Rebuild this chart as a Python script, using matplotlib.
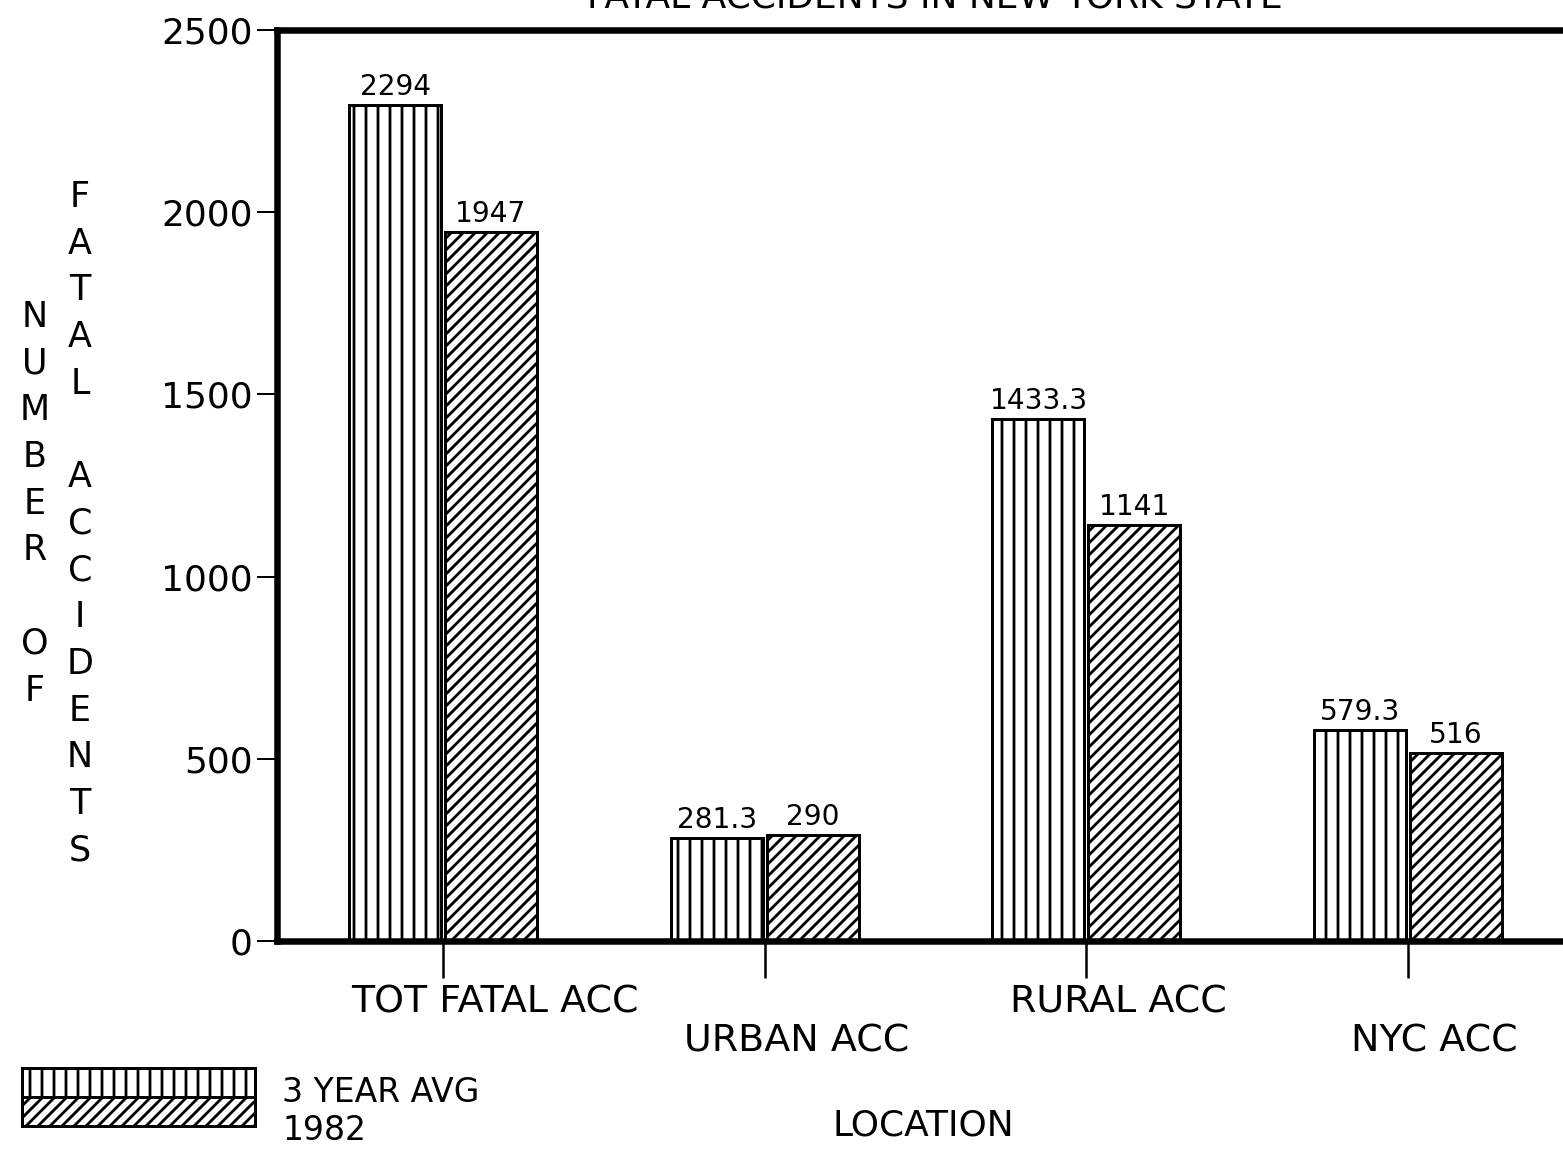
import matplotlib
matplotlib.use("Agg")
import matplotlib.pyplot as plt
import matplotlib.transforms as mtransforms
from matplotlib.patches import Rectangle
import numpy as np

categories = ["TOT FATAL ACC", "URBAN ACC", "RURAL ACC", "NYC ACC"]
avg_3yr = [2294, 281.3, 1433.3, 579.3]
y1982 = [1947, 290, 1141, 516]
series_names = ["3 YEAR AVG", "1982"]
yticks = [0, 500, 1000, 1500, 2000, 2500]

W, H, DPI = 1563, 1149, 72
plt.rcParams['font.family'] = ['DejaVu Sans']
plt.rcParams['hatch.linewidth'] = 2.8
plt.rcParams['hatch.color'] = 'black'

fig = plt.figure(figsize=(W / DPI, H / DPI), dpi=DPI)
fig.patch.set_facecolor('white')

def px_to_fig(x, y):
    return x / W, 1 - y / H

left_px, top_px, bot_px, right_px = 277, 30, 941, 1600
ax = fig.add_axes([left_px / W, (H - bot_px) / H, (right_px - left_px) / W, (bot_px - top_px) / H])

unit = 321.7
xmin = -(443 - left_px) / unit
xmax = xmin + (right_px - left_px) / unit
ax.set_xlim(xmin, xmax)
ax.set_ylim(0, 2500)

hatches = ['|', '//']
x = np.arange(len(categories))
bw = 0.286
off = 0.149
b1 = ax.bar(x - off, avg_3yr, bw, facecolor='white', edgecolor='black', linewidth=3, hatch=hatches[0])
b2 = ax.bar(x + off, y1982, bw, facecolor='white', edgecolor='black', linewidth=3, hatch=hatches[1])

ax.bar_label(b1, labels=[f"{v:g}" for v in avg_3yr], padding=4, fontsize=28)
ax.bar_label(b2, labels=[f"{v:g}" for v in y1982], padding=4, fontsize=28)

for side in ['top', 'bottom', 'left', 'right']:
    ax.spines[side].set_linewidth(6.5)
ax.spines['right'].set_visible(False)

ax.set_yticks(yticks)
ax.set_yticklabels([str(t) for t in yticks], fontsize=36)
ax.tick_params(axis='y', length=20, width=2, pad=4, direction='out')
ax.set_xticks(x)
ax.set_xticklabels([''] * len(categories))
ax.tick_params(axis='x', length=37, width=2.5, direction='out')

# category labels, staggered below the ticks
trans = mtransforms.blended_transform_factory(ax.transData, ax.transAxes)
label_y = [-0.067, -0.110]
label_dx = [0.16, 0.10, 0.10, 0.08]
for i, c in enumerate(categories):
    ax.text(i + label_dx[i], label_y[i % 2], c, transform=trans, ha='center', va='center', fontsize=38)

# title (clipped at top as in the reference)
fx, fy = px_to_fig(935, 8)
fig.text(fx, fy, "FATAL ACCIDENTS IN NEW YORK STATE", ha='center', va='baseline', fontsize=36)

# x-axis title
fx, fy = px_to_fig(923, 1125)
fig.text(fx, fy, "LOCATION", ha='center', va='center', fontsize=36)

# y-axis label as two stacked columns of letters
step = 46.7
col1 = "NUMBER OF"
col2 = "FATAL ACCIDENTS"
for k, ch in enumerate(col1):
    fx, fy = px_to_fig(35, 317 + k * step)
    fig.text(fx, fy, ch, ha='center', va='center', fontsize=35)
for k, ch in enumerate(col2):
    fx, fy = px_to_fig(80, 197 + k * step)
    fig.text(fx, fy, ch, ha='center', va='center', fontsize=35)

# legend: stacked hatch keys with labels
key_left, key_w = 22, 233
key_tops = [1068, 1097]
key_h = 29
text_y = [1092, 1130]
for k, name in enumerate(series_names):
    fx, fy = px_to_fig(key_left, key_tops[k] + key_h)
    fig.add_artist(Rectangle((fx, fy), key_w / W, key_h / H, transform=fig.transFigure,
                             facecolor='white', edgecolor='black', linewidth=3, hatch=hatches[k]))
    tx, ty = px_to_fig(282, text_y[k])
    fig.text(tx, ty, name, ha='left', va='center', fontsize=33)

fig.savefig("out.png", dpi=DPI, facecolor='white')
